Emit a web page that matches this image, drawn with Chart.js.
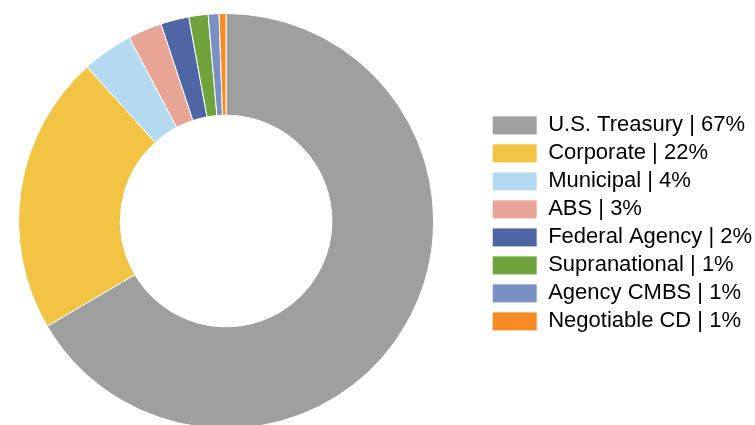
<!DOCTYPE html>
<html>
<head>
<meta charset="utf-8">
<script src="https://cdn.jsdelivr.net/npm/chart.js@4"></script>
<style>
  html, body { margin:0; padding:0; background:#fff; overflow:hidden; }
  /* canvas starts a bit off the left edge so the ring sits where the original has it */
  #wrap { position:relative; left:-34px; width:789px; height:442px; }
</style>
</head>
<body>
<div id="wrap"><canvas id="chart"></canvas></div>
<script>
// sectors of the portfolio, in drawing order (clockwise from 12 o'clock)
const categories = ["U.S. Treasury", "Corporate", "Municipal", "ABS", "Federal Agency", "Supranational", "Agency CMBS", "Negotiable CD"];
// rounded shares printed in the legend
const shareLabels = [67, 22, 4, 3, 2, 1, 1, 1];
// slice sizes (percent)
const values = [66.6, 21.8, 3.96, 2.65, 2.2, 1.5, 0.84, 0.54];
const colors = ["#9f9f9f", "#f3c343", "#b4daf2", "#e8a595", "#4e66a6", "#70a33c", "#7a8fc2", "#f88a25"];

const labels = categories.map((c, i) => c + " | " + shareLabels[i] + "%");

Chart.defaults.font.family = "'Liberation Sans', Arial, sans-serif";
Chart.defaults.color = "#000";

const ctx = document.getElementById("chart");
const chart = new Chart(ctx, {
  type: "doughnut",
  data: {
    labels: labels,
    datasets: [{
      data: values,
      backgroundColor: colors,
      borderColor: "#fff",
      borderWidth: 1
    }]
  },
  options: {
    responsive: true,
    maintainAspectRatio: false,
    animation: false,
    cutout: "51%",
    layout: { padding: { left: 0, right: -7, top: 13, bottom: 13 } },
    plugins: {
      tooltip: { enabled: false },
      legend: {
        position: "right",
        // empty title only to nudge the items a few px down
        title: { display: true, text: " ", padding: 0, font: { size: 4 } },
        labels: {
          boxWidth: 45,
          boxHeight: 19,
          padding: 6,
          color: "#000",
          font: { size: 22 }
        }
      }
    }
  }
});
</script>
</body>
</html>
